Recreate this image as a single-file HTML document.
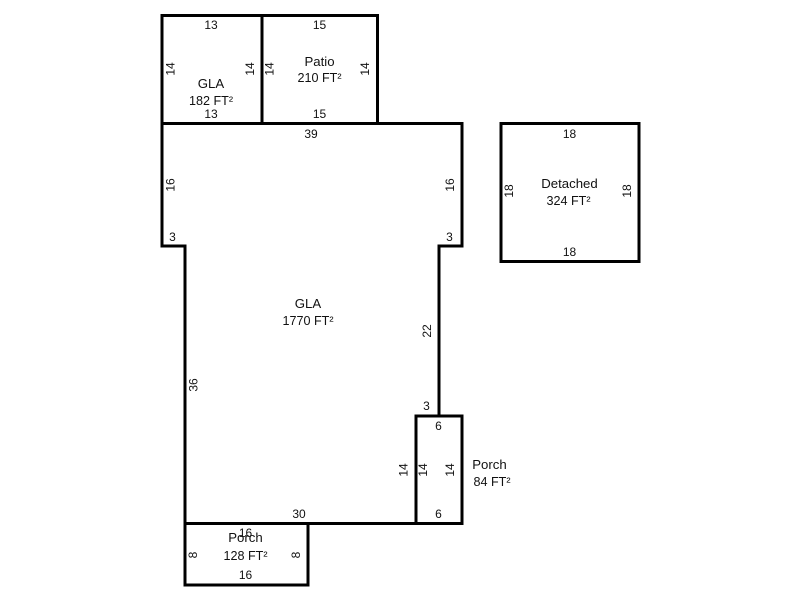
<!DOCTYPE html>
<html>
<head>
<meta charset="utf-8">
<style>
html,body{margin:0;padding:0;background:#fff;width:800px;height:600px;overflow:hidden}
svg{display:block}
text{font-family:"Liberation Sans",Arial,sans-serif;font-size:12px;fill:#111;text-anchor:middle}
text.w{font-size:13.2px}
text.a{font-size:12.6px}
</style>
</head>
<body>
<svg width="800" height="600" viewBox="0 0 800 600" xmlns="http://www.w3.org/2000/svg">
<g fill="none" stroke="#000" stroke-width="3" stroke-linecap="square" stroke-linejoin="miter">
<path d="M162 15.500H377.500V123.500M262 15.500V123.500M162 15.500V246H185V523.500H416M162 123.500H462V246H439V416"/>
<rect x="416" y="416" width="46" height="107.500"/>
<rect x="185" y="523.500" width="123" height="61.500"/>
<rect x="501" y="123.500" width="138" height="138"/>
</g>
<text x="211" y="29">13</text>
<text x="319.500" y="29">15</text>
<text class="w" x="211" y="88">GLA</text>
<text class="a" x="211" y="105">182 FT²</text>
<text x="211" y="118">13</text>
<text class="w" x="319.500" y="66">Patio</text>
<text class="a" x="319.500" y="82">210 FT²</text>
<text x="319.500" y="118">15</text>
<text x="311" y="138">39</text>
<text x="172.500" y="241">3</text>
<text x="449.500" y="241">3</text>
<text class="w" x="308" y="308">GLA</text>
<text class="a" x="308" y="325">1770 FT²</text>
<text x="426.500" y="410">3</text>
<text x="438.500" y="430">6</text>
<text x="438.500" y="518">6</text>
<text x="299" y="518">30</text>
<text class="w" x="489.500" y="469">Porch</text>
<text class="a" x="492" y="486">84 FT²</text>
<text x="245.500" y="537">16</text>
<text class="w" x="245.500" y="542">Porch</text>
<text class="a" x="245.500" y="560">128 FT²</text>
<text x="245.500" y="579">16</text>
<text x="569.500" y="138">18</text>
<text class="w" x="569.500" y="188">Detached</text>
<text class="a" x="568.500" y="205">324 FT²</text>
<text x="569.500" y="256">18</text>
<text transform="translate(174.500 69) rotate(-90)">14</text>
<text transform="translate(254 69) rotate(-90)">14</text>
<text transform="translate(273.500 69) rotate(-90)">14</text>
<text transform="translate(369 69) rotate(-90)">14</text>
<text transform="translate(174.500 185) rotate(-90)">16</text>
<text transform="translate(454 185) rotate(-90)">16</text>
<text transform="translate(431 331) rotate(-90)">22</text>
<text transform="translate(197.500 385) rotate(-90)">36</text>
<text transform="translate(407.500 470) rotate(-90)">14</text>
<text transform="translate(427 470) rotate(-90)">14</text>
<text transform="translate(454 470) rotate(-90)">14</text>
<text transform="translate(197 555) rotate(-90)">8</text>
<text transform="translate(300 555) rotate(-90)">8</text>
<text transform="translate(513 191) rotate(-90)">18</text>
<text transform="translate(631 191) rotate(-90)">18</text>
</svg>
</body>
</html>
